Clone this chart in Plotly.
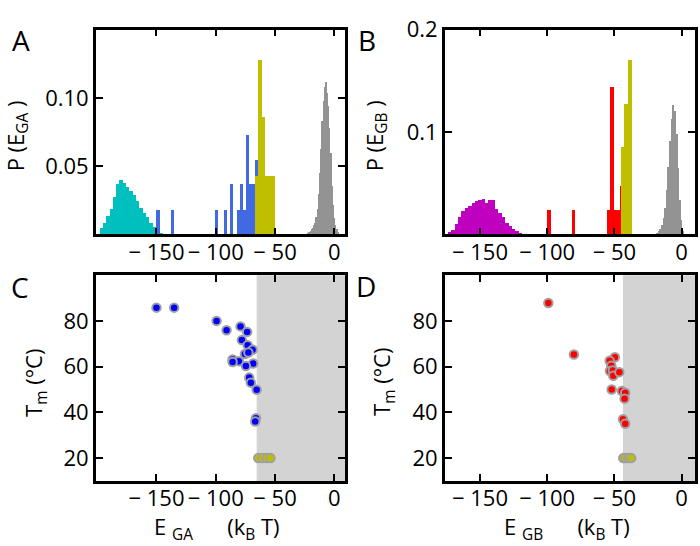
import plotly.graph_objects as go

# ---------------- data ----------------
# Panel A histograms (E_GA)
A_cyan_x = [-196.6, -193.8, -191.0, -188.2, -185.4, -182.6, -179.8, -177.0, -174.2, -171.4,
            -168.6, -165.8, -163.0, -160.2, -157.4, -154.6, -151.8, -149.0, -146.2]
A_cyan_y = [0.005, 0.009, 0.014, 0.019, 0.028, 0.037, 0.040, 0.038, 0.035, 0.032,
            0.029, 0.025, 0.020, 0.016, 0.013, 0.009, 0.006, 0.003, 0.001]
A_blue_x = [-148.6, -136.2, -99.6, -92.0, -87.0, -81.0, -78.2, -75.8, -73.4, -70.6, -67.8, -65.6]
A_blue_y = [0.018, 0.018, 0.018, 0.018, 0.037, 0.018, 0.037, 0.018, 0.073, 0.037, 0.037, 0.055]
A_yel_x = [-65.6, -62.8, -60.0, -57.2, -54.4, -51.6]
A_yel_y = [0.043, 0.128, 0.086, 0.043, 0.043, 0.043]
A_gray_x = [-22, -21, -20, -19, -18, -17, -16, -15, -14, -13, -12, -11, -10, -9, -8, -7, -6,
            -5, -4, -3, -2, -1, 0, 1, 2, 3]
A_gray_y = [0.001, 0.002, 0.003, 0.004, 0.005, 0.007, 0.009, 0.013, 0.019, 0.030, 0.045, 0.063,
            0.083, 0.098, 0.108, 0.112, 0.104, 0.094, 0.078, 0.060, 0.036, 0.022, 0.012, 0.007,
            0.004, 0.002]

# Panel B histograms (E_GB)
B_mag_x = [-172.5, -170.0, -167.5, -165.0, -162.5, -160.0, -157.5, -155.0, -152.5, -150.0, -147.5,
           -145.0, -142.5, -140.0, -137.5, -135.0, -132.5, -130.0, -127.5, -125.0, -122.5, -120.0]
B_mag_y = [0.003, 0.005, 0.011, 0.017, 0.023, 0.026, 0.028, 0.031, 0.033, 0.034, 0.035,
           0.031, 0.034, 0.034, 0.025, 0.021, 0.017, 0.012, 0.009, 0.006, 0.004, 0.002]
B_red_x = [-98.7, -80.5, -54.5, -51.8, -49.1, -46.6, -44.6]
B_red_y = [0.024, 0.024, 0.024, 0.144, 0.024, 0.024, 0.048]
B_yel_x = [-43.9, -41.2, -38.3]
B_yel_y = [0.086, 0.128, 0.171]
B_gray_x = [-18.0, -16.8, -15.6, -14.4, -13.2, -12.0, -10.8, -9.6, -8.4, -7.2, -6.0, -4.8,
            -3.6, -2.4, -1.2, 0.0, 1.2]
B_gray_y = [0.002, 0.004, 0.006, 0.010, 0.016, 0.026, 0.044, 0.066, 0.092, 0.113, 0.127, 0.121,
            0.098, 0.065, 0.034, 0.014, 0.004]

# Panel C scatter (E_GA vs Tm)
C_x = [-150.0, -135.1, -99.3, -90.9, -79.1, -73.5, -78.0, -73.1, -68.9, -75.4, -72.5, -85.8,
       -80.5, -85.8, -68.4, -74.6, -71.8, -70.4, -65.5, -66.1, -66.7]
C_y = [85.8, 85.8, 80.0, 75.9, 77.6, 75.2, 71.6, 69.4, 67.4, 65.5, 66.2, 63.1,
       62.4, 62.0, 61.4, 60.3, 55.2, 53.0, 49.9, 37.4, 36.0]
C_low_x = [-64.2, -60.5, -57.1, -53.8]
C_low_y = [20, 20, 20, 20]
C_cut = -65.5

# Panel D scatter (E_GB vs Tm)
D_x = [-99.1, -80.1, -49.6, -53.5, -52.3, -53.3, -51.1, -50.8, -46.3, -52.0, -44.4, -41.9,
       -42.4, -43.6, -41.9]
D_y = [87.8, 65.3, 64.1, 62.6, 60.4, 58.1, 58.3, 56.0, 57.6, 50.0, 49.3, 48.6,
       46.0, 37.0, 35.0]
D_low_x = [-43.4, -41.7, -39.2, -37.4]
D_low_y = [20, 20, 20, 20]
D_cut = -43.6

x_ticks = [-150, -100, -50, 0]
x_ticktext = ["\u2212\u00a0150", "\u2212\u00a0100", "\u2212\u00a050", "0"]

# ---------------- figure ----------------
W, H = 700, 546
FONT = "Open Sans"
fig = go.Figure()

def bar(x, y, w, color, xa, ya):
    fig.add_trace(go.Bar(x=x, y=y, width=w, marker=dict(color=color, line=dict(width=0)),
                         xaxis=xa, yaxis=ya, showlegend=False))

bar(A_cyan_x, A_cyan_y, 2.8, "#00bfbf", "x", "y")
bar(A_blue_x, A_blue_y, 2.8, "#4169e1", "x", "y")
bar(A_yel_x, A_yel_y, 2.8, "#bfbf00", "x", "y")
bar(A_gray_x, A_gray_y, 1.0, "#939393", "x", "y")

bar(B_mag_x, B_mag_y, 2.5, "#bf00bf", "x2", "y2")
bar(B_red_x, B_red_y, 2.5, "#ff0000", "x2", "y2")
bar(B_yel_x, B_yel_y, 2.9, "#bfbf00", "x2", "y2")
bar(B_gray_x, B_gray_y, 1.2, "#939393", "x2", "y2")

def pts(x, y, color, xa, ya):
    fig.add_trace(go.Scatter(x=x, y=y, mode="markers", xaxis=xa, yaxis=ya, showlegend=False,
                             marker=dict(color=color, size=8.5,
                                         line=dict(color="#a0a0a0", width=2))))

pts(C_x, C_y, "#0000ff", "x3", "y3")
pts(C_low_x, C_low_y, "#bfbf00", "x3", "y3")
pts(D_x, D_y, "#ff0000", "x4", "y4")
pts(D_low_x, D_low_y, "#bfbf00", "x4", "y4")

xA = [96 / W, 345 / W]
xB = [445 / W, 695 / W]
yT = [1 - 225 / H, 1 - 14 / H]
yB = [1 - 479 / H, 1 - 267 / H]

common = dict(showline=True, linecolor="black", linewidth=2.8, mirror="ticks",
              ticks="inside", ticklen=7, tickwidth=1.5, tickcolor="black",
              showgrid=False, zeroline=False, tickangle=0,
              tickfont=dict(family=FONT, size=22, color="black"))
xcommon = dict(common, ticklabelstandoff=-4)

fig.update_layout(
    width=W, height=H, margin=dict(l=0, r=0, t=0, b=0),
    paper_bgcolor="white", plot_bgcolor="white",
    barmode="overlay", bargap=0,
    xaxis=dict(domain=xA, anchor="y", range=[-201, 9], tickvals=x_ticks, ticktext=x_ticktext, **xcommon),
    yaxis=dict(domain=yT, anchor="x", range=[0, 0.15], tickvals=[0.05, 0.10],
               ticktext=["0.05", "0.10"], **common),
    xaxis2=dict(domain=xB, anchor="y2", range=[-176, 10], tickvals=x_ticks, ticktext=x_ticktext, **xcommon),
    yaxis2=dict(domain=yT, anchor="x2", range=[0, 0.2], tickvals=[0.1, 0.2],
                ticktext=["0.1", "0.2"], **common),
    xaxis3=dict(domain=xA, anchor="y3", range=[-201, 9], tickvals=x_ticks, ticktext=x_ticktext, **xcommon),
    yaxis3=dict(domain=yB, anchor="x3", range=[10, 100], tickvals=[20, 40, 60, 80], **common),
    xaxis4=dict(domain=xB, anchor="y4", range=[-176, 10], tickvals=x_ticks, ticktext=x_ticktext, **xcommon),
    yaxis4=dict(domain=yB, anchor="x4", range=[10, 100], tickvals=[20, 40, 60, 80], **common),
    shapes=[
        dict(type="rect", xref="x3", yref="y3 domain", x0=C_cut, x1=9, y0=0, y1=1,
             fillcolor="#d3d3d3", line=dict(width=0), layer="below"),
        dict(type="rect", xref="x4", yref="y4 domain", x0=D_cut, x1=10, y0=0, y1=1,
             fillcolor="#d3d3d3", line=dict(width=0), layer="below"),
    ],
)

NB = "\u00a0"
def ann(text, x, y, size, angle=0):
    fig.add_annotation(text=text, x=x / W, y=1 - y / H, xref="paper", yref="paper",
                       showarrow=False, textangle=angle, xanchor="center", yanchor="middle",
                       font=dict(family=FONT, size=size, color="black"))

ann("A", 21, 25, 28)
ann("B", 367, 25, 28)
ann("C", 20, 279, 28)
ann("D", 366, 278, 28)
ann("P (E<sub>GA</sub>" + NB + ")", 17, 124, 22, -90)
ann("P (E<sub>GB</sub>" + NB + ")", 376, 124, 22, -90)
ann("T<sub>m</sub>" + NB + "(\u00b0C)", 35, 378, 22, -90)
ann("T<sub>m</sub>" + NB + "(\u00b0C)", 383, 377, 22, -90)
ann("E" + NB + "<sub>GA</sub>" + NB * 6 + "(k<sub>B</sub>" + NB + "T)", 217, 527, 22)
ann("E" + NB + "<sub>GB</sub>" + NB * 6 + "(k<sub>B</sub>" + NB + "T)", 567, 527, 22)

fig.write_html("out.html", config={"displayModeBar": False},
               post_script="document.body.style.margin='0';document.body.style.overflow='hidden';")
